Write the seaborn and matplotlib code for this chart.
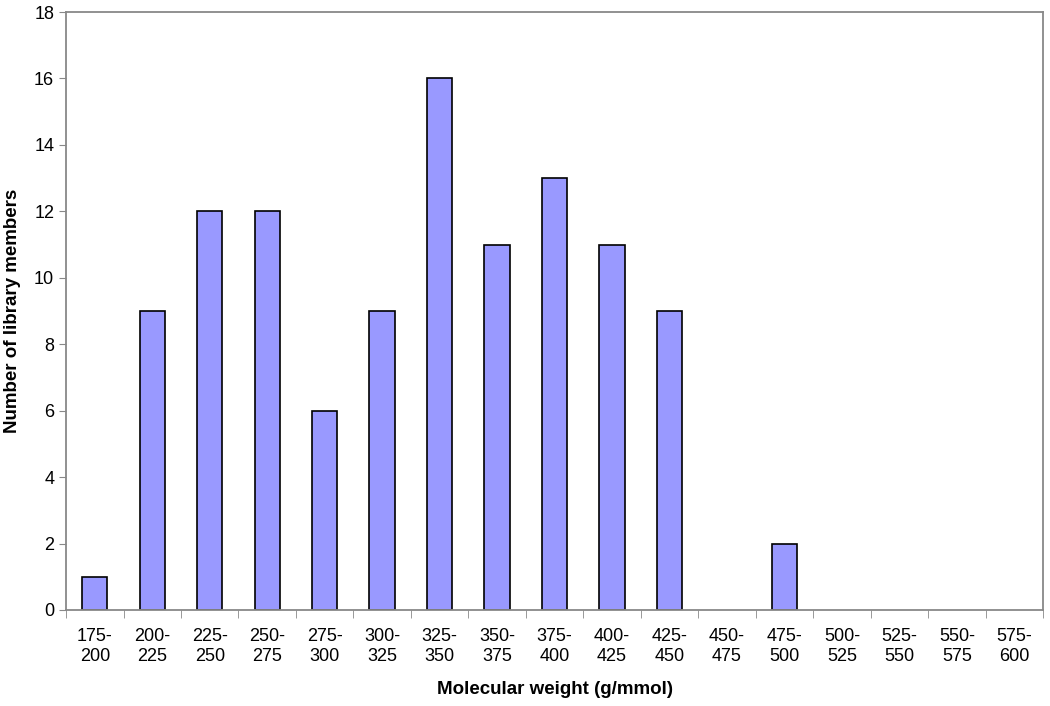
import pandas as pd
import matplotlib
matplotlib.use('Agg')
import matplotlib.pyplot as plt
import seaborn as sns
import numpy as np

# Molecular weight bins and counts
bins = ['175-\n200', '200-\n225', '225-\n250', '250-\n275', '275-\n300', '300-\n325',
        '325-\n350', '350-\n375', '375-\n400', '400-\n425', '425-\n450', '450-\n475',
        '475-\n500', '500-\n525', '525-\n550', '550-\n575', '575-\n600']
counts = [1, 9, 12, 12, 6, 9, 16, 11, 13, 11, 9, 0, 2, 0, 0, 0, 0]

df = pd.DataFrame({'bin': bins, 'count': counts})

sns.set_style('white')
plt.rcParams['font.family'] = ['Liberation Sans', 'DejaVu Sans']
plt.rcParams['text.color'] = 'black'
plt.rcParams['xtick.labelcolor'] = 'black'
plt.rcParams['ytick.labelcolor'] = 'black'
plt.rcParams['axes.labelcolor'] = 'black'

fig = plt.figure(figsize=(10.5, 7.06), dpi=100)
ax = fig.add_axes([0.0629, 0.136, 0.9305, 0.847])

sns.barplot(data=df, x='bin', y='count', color='#9999FF', saturation=1,
            width=0.44, edgecolor='black', linewidth=1.2, ax=ax)

# empty bins show nothing
for p in ax.patches:
    if p.get_height() == 0:
        p.set_linewidth(0)

ax.set_xlim(-0.5, len(bins) - 0.5)
ax.set_ylim(0, 18)
ax.set_yticks(range(0, 19, 2))

# ticks at the bin boundaries
ax.set_xticks(np.arange(-0.5, len(bins), 1), minor=True)
ax.tick_params(axis='x', which='major', length=0, pad=13, labelsize=13)
ax.tick_params(axis='x', which='minor', length=6, direction='out', color='#888888', bottom=True)
ax.tick_params(axis='y', length=5, direction='out', color='#888888', left=True, labelsize=13)

for s in ax.spines.values():
    s.set_color('#888888')
    s.set_linewidth(1.3)

ax.set_xlabel('Molecular weight (g/mmol)', fontsize=13.5, fontweight='bold', labelpad=12)
ax.set_ylabel('Number of library members', fontsize=13.5, fontweight='bold', va='center')
ax.yaxis.set_label_coords(-0.055, 0.5)

plt.savefig('out.png', dpi=100)
